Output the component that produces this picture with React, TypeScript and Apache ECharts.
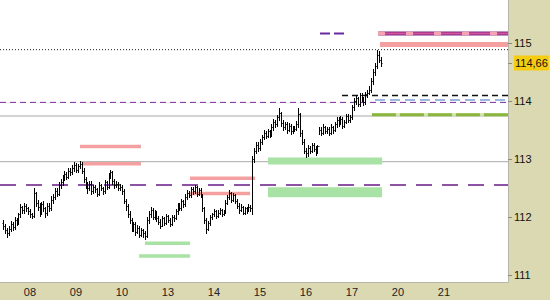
import React, { useEffect, useRef } from 'react';
import * as echarts from 'echarts';

// ---------- data ----------
const dayLabels = ['08', '09', '10', '13', '14', '15', '16', '17', '20', '21'];
const dayStarts = [0, 24, 48, 72, 96, 120, 144, 168, 192, 216]; // hours
const X_START = -15.65;
const X_END = 249.4;
const firstHour = -14;
const firstOpen = 111.9;

const closes = [
  111.85, 111.78, 111.72, 111.80, 111.88, 111.83, 111.95, 111.90,
  112.05, 112.18, 112.12, 112.20, 112.15, 112.10, 112.05, 112.02,
  112.42,
  112.25, 112.18, 112.10, 112.22, 112.15, 112.08, 112.20, 112.15, 112.30,
  112.35, 112.45, 112.40, 112.55,
  112.60, 112.68, 112.75, 112.70, 112.80, 112.78,
  112.85, 112.90, 112.82, 112.88, 112.92, 112.80,
  112.65, 112.55, 112.50, 112.58,
  112.45, 112.52, 112.48, 112.40, 112.55, 112.50, 112.45, 112.60, 112.52, 112.72, 112.78, 112.62, 112.55, 112.58, 112.50, 112.52,
  112.45, 112.28, 112.20,
  112.05, 111.95, 111.80, 111.88, 111.75, 111.82, 111.70, 111.78, 111.72, 111.68,
  111.95, 112.05, 112.12, 112.00, 112.08, 111.98,
  111.92, 111.85, 111.98, 111.90, 112.02, 111.95, 111.88, 112.00, 111.98,
  112.10, 112.20, 112.15, 112.28, 112.22,
  112.35, 112.42, 112.38, 112.48, 112.45, 112.52, 112.40, 112.46, 112.38,
  112.15, 111.95, 111.80, 111.90,
  112.00, 112.05, 112.10, 112.02, 112.08, 112.12, 112.05, 112.10,
  112.25, 112.35, 112.42, 112.30, 112.38, 112.28,
  112.20, 112.12, 112.18, 112.08, 112.15, 112.12, 112.18, 112.15,
  113.00,
  113.15, 113.25, 113.20, 113.30,
  113.38, 113.45, 113.40, 113.48, 113.42,
  113.55, 113.65, 113.60, 113.72, 113.80,
  113.62, 113.55, 113.60, 113.50, 113.58, 113.48, 113.55, 113.52, 113.60, 113.78,
  113.45, 113.30, 113.15, 113.10, 113.20, 113.15, 113.25, 113.18, 113.12, 113.22,
  113.50, 113.45, 113.55, 113.48, 113.52, 113.45, 113.55, 113.50,
  113.60, 113.68, 113.62, 113.70, 113.58, 113.65, 113.75, 113.68, 113.72,
  113.90, 114.00, 114.05, 113.95,
  114.10, 114.05, 113.98, 114.12, 114.15, 114.20,
  114.35, 114.50, 114.60,
  114.80, 114.72,
  114.66,
];

const highs = [
  111.95, 111.88, 111.82, 111.85, 111.93, 111.92, 112.00, 111.98,
  112.08, 112.22, 112.20, 112.24, 112.22, 112.18, 112.14, 112.08,
  112.50,
  112.44, 112.30, 112.24, 112.26, 112.28, 112.18, 112.25, 112.24, 112.36,
  112.40, 112.50, 112.50, 112.60,
  112.66, 112.72, 112.80, 112.78, 112.85, 112.84,
  112.90, 112.96, 112.93, 112.92, 112.97, 112.95,
  112.84, 112.70, 112.60, 112.62,
  112.62, 112.56, 112.55, 112.50, 112.60, 112.58, 112.52, 112.64, 112.62, 112.76, 112.82, 112.80, 112.66, 112.62, 112.60, 112.58,
  112.56, 112.48, 112.32,
  112.22, 112.10, 111.98, 111.92, 111.92, 111.86, 111.85, 111.82, 111.80, 111.76,
  112.00, 112.10, 112.18, 112.15, 112.12, 112.10,
  112.02, 111.96, 112.02, 112.00, 112.06, 112.04, 111.98, 112.04, 112.04,
  112.14, 112.24, 112.24, 112.32, 112.30,
  112.40, 112.46, 112.45, 112.52, 112.52, 112.55, 112.54, 112.50, 112.50,
  112.40, 112.18, 111.98, 111.94,
  112.04, 112.08, 112.14, 112.12, 112.12, 112.15, 112.14, 112.13,
  112.30, 112.38, 112.46, 112.44, 112.42, 112.40,
  112.32, 112.24, 112.22, 112.20, 112.18, 112.18, 112.22, 112.21,
  113.05,
  113.20, 113.30, 113.30, 113.35,
  113.42, 113.50, 113.48, 113.52, 113.50,
  113.60, 113.70, 113.68, 113.76, 113.88,
  113.82, 113.68, 113.64, 113.64, 113.62, 113.60, 113.58, 113.58, 113.66, 113.88,
  113.80, 113.50, 113.34, 113.20, 113.24, 113.22, 113.28, 113.28, 113.22, 113.24,
  113.55, 113.56, 113.60, 113.58, 113.56, 113.56, 113.60, 113.58,
  113.64, 113.72, 113.72, 113.74, 113.72, 113.68, 113.78, 113.78, 113.76,
  113.94, 114.06, 114.10, 114.08,
  114.14, 114.15, 114.08, 114.16, 114.20, 114.26,
  114.40, 114.56, 114.66,
  114.88, 114.86,
  114.76,
];

const lows = [
  111.80, 111.72, 111.66, 111.70, 111.76, 111.78, 111.80, 111.86,
  111.88, 112.00, 112.08, 112.08, 112.10, 112.06, 112.00, 111.98,
  112.00,
  112.20, 112.12, 112.02, 112.06, 112.10, 112.00, 112.04, 112.10, 112.12,
  112.25, 112.32, 112.36, 112.38,
  112.50, 112.56, 112.64, 112.66, 112.68, 112.72,
  112.74, 112.80, 112.78, 112.78, 112.84, 112.76,
  112.60, 112.50, 112.42, 112.46,
  112.40, 112.42, 112.44, 112.36, 112.38, 112.46, 112.40, 112.42, 112.48, 112.50, 112.68, 112.58, 112.50, 112.52, 112.46, 112.46,
  112.40, 112.24, 112.12,
  112.00, 111.90, 111.76, 111.76, 111.70, 111.72, 111.66, 111.68, 111.66, 111.62,
  111.66, 111.90, 112.00, 111.96, 111.96, 111.94,
  111.88, 111.82, 111.84, 111.86, 111.88, 111.92, 111.84, 111.86, 111.94,
  111.96, 112.06, 112.12, 112.12, 112.18,
  112.20, 112.32, 112.34, 112.35, 112.40, 112.42, 112.36, 112.38, 112.34,
  112.10, 111.90, 111.72, 111.78,
  111.86, 111.96, 112.02, 111.98, 112.00, 112.05, 112.02, 112.03,
  112.08, 112.22, 112.32, 112.26, 112.28, 112.24,
  112.16, 112.08, 112.10, 112.05, 112.06, 112.08, 112.10, 112.10,
  112.06,
  112.95, 113.10, 113.15, 113.16,
  113.26, 113.34, 113.36, 113.38, 113.38,
  113.40, 113.50, 113.56, 113.58, 113.68,
  113.58, 113.50, 113.52, 113.46, 113.48, 113.44, 113.45, 113.48, 113.50, 113.56,
  113.40, 113.26, 113.10, 113.03, 113.06, 113.10, 113.12, 113.14, 113.08, 113.10,
  113.44, 113.42, 113.44, 113.45, 113.46, 113.42, 113.44, 113.46,
  113.48, 113.56, 113.58, 113.60, 113.54, 113.56, 113.62, 113.64, 113.64,
  113.70, 113.85, 113.96, 113.92,
  113.92, 114.00, 113.94, 113.96, 114.08, 114.12,
  114.16, 114.30, 114.45,
  114.58, 114.68,
  114.60,
];

const yTickValues = [111, 112, 113, 114, 115];
const lastPrice = 114.66;

// horizontal levels: price and time span (hours)
const levels = [
  { kind: 'dotted', price: 114.89, from: X_START, to: X_END },
  { kind: 'purpleShort', price: 113.98, from: X_START, to: X_END },
  { kind: 'blackDash', price: 114.1, from: 162.8, to: X_END },
  { kind: 'blueDash', price: 114.02, from: 180, to: X_END },
  { kind: 'gray', price: 113.745, from: X_START, to: X_END },
  { kind: 'gray', price: 112.957, from: X_START, to: X_END },
  { kind: 'purpleLong', price: 112.555, from: X_START, to: X_END },
  { kind: 'olive', price: 113.765, from: 178.4, to: X_END },
  { kind: 'topShort', price: 115.17, from: 151.3, to: 165.4 },
  { kind: 'topBand', price: 115.17, from: 181.6, to: X_END },
  { kind: 'salmonWide', price: 114.98, from: 182.6, to: X_END },
  { kind: 'salmon', price: 113.22, from: 26.1, to: 57.9 },
  { kind: 'salmon', price: 112.92, from: 27.7, to: 57.9 },
  { kind: 'salmon', price: 112.67, from: 83.5, to: 117.4 },
  { kind: 'salmon', price: 112.41, from: 83.5, to: 114.8 },
  { kind: 'greenMid', price: 112.97, from: 124.2, to: 183.7 },
  { kind: 'greenWide', price: 112.43, from: 124.2, to: 183.7 },
  { kind: 'green', price: 111.55, from: 60, to: 83.5 },
  { kind: 'green', price: 111.33, from: 56.9, to: 83.5 },
];

// ---------- styles ----------
const TAN = '#dbd9b2';
const levelStyles: Record<string, any[]> = {
  dotted: [{ color: '#222', width: 1, type: [1, 2] }],
  purpleShort: [{ color: '#7a2a9a', width: 1, type: [6, 4] }],
  blackDash: [{ color: '#111', width: 1.5, type: [6, 4] }],
  blueDash: [{ color: '#7aa0d8', width: 1.5, type: [10, 5] }],
  gray: [{ color: '#a8a8a8', width: 1, type: 'solid' }],
  purpleLong: [{ color: '#6a1a86', width: 1.5, type: [16, 10] }],
  olive: [
    { color: '#cfe3a8', width: 3, type: 'solid' },
    { color: '#8ab640', width: 3, type: [24, 4] },
  ],
  topShort: [{ color: '#6a2aa0', width: 2, type: [10, 4] }],
  topBand: [
    { color: '#7a2a8a', width: 4, type: 'solid' },
    { color: '#d8509a', width: 2, type: 'solid' },
    { color: '#f3a3b3', width: 4, type: [7, 21] },
  ],
  salmonWide: [{ color: '#f5a0a0', width: 5, type: 'solid' }],
  salmon: [{ color: '#f5a0a0', width: 3.5, type: 'solid' }],
  greenMid: [{ color: '#a8e2a4', width: 7, type: 'solid' }],
  greenWide: [{ color: '#a8e2a4', width: 10, type: 'solid' }],
  green: [{ color: '#a8e2a4', width: 3.5, type: 'solid' }],
};

function buildBars() {
  const out: number[][] = [];
  let prev = firstOpen;
  for (let i = 0; i < closes.length; i++) {
    out.push([firstHour + i, prev, highs[i], lows[i], closes[i]]);
    prev = closes[i];
  }
  return out;
}

export default function App() {
  const ref = useRef<HTMLDivElement>(null);
  useEffect(() => {
    if (!ref.current) return;
    const chart = echarts.init(ref.current, undefined, { renderer: 'svg' });

    const levelSeries: any[] = [];
    levels.forEach((lv, i) => {
      (levelStyles[lv.kind] || []).forEach((st, j) => {
        levelSeries.push({
          type: 'line',
          name: `lv${i}_${j}`,
          data: [
            [lv.from, lv.price],
            [lv.to, lv.price],
          ],
          symbol: 'none',
          silent: true,
          animation: false,
          z: 2 + j,
          lineStyle: st,
        });
      });
    });

    const barSeries = {
      type: 'custom',
      data: buildBars(),
      encode: { x: 0, y: [1, 2, 3, 4] },
      z: 10,
      silent: true,
      renderItem: (params: any, api: any) => {
        const h = api.value(0);
        const pO = api.coord([h, api.value(1)]);
        const pH = api.coord([h, api.value(2)]);
        const pL = api.coord([h, api.value(3)]);
        const pC = api.coord([h, api.value(4)]);
        const x = Math.round(pH[0]) + 0.5;
        const yo = Math.round(pO[1]) + 0.5;
        const yc = Math.round(pC[1]) + 0.5;
        const st = { stroke: '#000', lineWidth: 1 };
        return {
          type: 'group',
          children: [
            { type: 'line', shape: { x1: x, y1: Math.round(pH[1]), x2: x, y2: Math.round(pL[1]) + 1 }, style: st },
            { type: 'line', shape: { x1: x - 1, y1: yo, x2: x, y2: yo }, style: st },
            { type: 'line', shape: { x1: x, y1: yc, x2: x + 1, y2: yc }, style: st },
          ],
        };
      },
    };

    chart.setOption({
      animation: false,
      backgroundColor: TAN,
      grid: {
        left: 0,
        top: 0,
        right: 42,
        bottom: 18,
        show: true,
        backgroundColor: '#ffffff',
        borderWidth: 0,
        containLabel: false,
        outerBoundsMode: 'none',
      },
      xAxis: {
        type: 'value',
        min: X_START,
        max: X_END,
        axisLine: { show: true, onZero: false, lineStyle: { color: '#b4b4aa', width: 1 } },
        axisTick: { show: false },
        splitLine: { show: false },
        axisLabel: {
          customValues: dayStarts,
          formatter: (v: number) => dayLabels[Math.round(v / 24)] ?? '',
          color: '#222',
          fontFamily: 'Liberation Sans',
          fontSize: 11,
          margin: 4,
        },
      },
      yAxis: {
        type: 'value',
        position: 'right',
        min: 110.881,
        max: 115.747,
        axisLine: { show: true, onZero: false, lineStyle: { color: '#b4b4aa', width: 1 } },
        axisTick: {
          show: true,
          length: 4,
          customValues: [...yTickValues, lastPrice],
          lineStyle: { color: '#8a8a80' },
        },
        splitLine: { show: false },
        axisLabel: {
          customValues: [...yTickValues, lastPrice],
          formatter: (v: number) =>
            Math.abs(v - lastPrice) < 1e-6
              ? `{p|${lastPrice.toFixed(2).replace('.', ',')}}`
              : String(v),
          color: '#111',
          fontFamily: 'Liberation Sans',
          fontSize: 11,
          margin: 6,
          rich: {
            p: {
              backgroundColor: '#f5cc12',
              color: '#111',
              fontFamily: 'Liberation Sans',
              fontSize: 11,
              padding: [2, 1, 2, 1],
            },
          },
        },
      },
      series: [...levelSeries, barSeries],
    });
    return () => chart.dispose();
  }, []);

  return (
    <div
      ref={ref}
      style={{ position: 'fixed', left: 0, top: 0, width: 550, height: 300 }}
    />
  );
}
